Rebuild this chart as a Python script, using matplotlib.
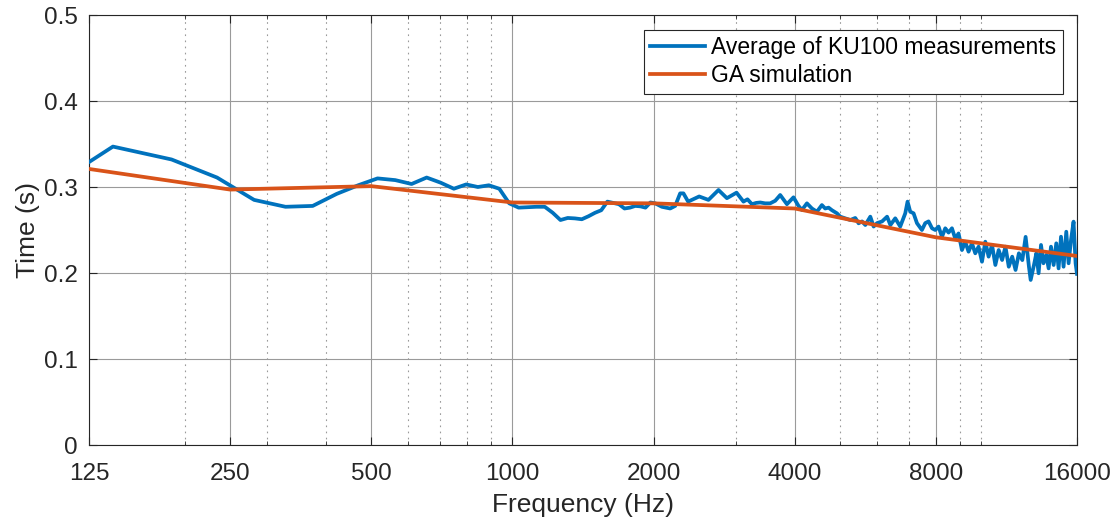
import matplotlib
matplotlib.use("Agg")
import matplotlib.pyplot as plt
from matplotlib.ticker import FixedLocator, NullFormatter

plt.rcParams['font.family'] = ['Liberation Sans', 'DejaVu Sans']

# ---- data ----
meas_freq = [125, 140.6, 187.5, 234.4, 281.25, 328.1, 375, 421.9, 468.75, 515.6,
             562.5, 609.4, 656.25, 703.1, 750, 796.9, 843.75, 890.6, 937.5, 984.4,
             1031, 1078, 1125, 1172, 1219, 1266, 1312, 1359, 1406, 1453,
             1500, 1547, 1594, 1641, 1687, 1734, 1781, 1828, 1875, 1922,
             1969, 2016, 2083, 2170, 2224, 2279, 2316, 2370, 2502, 2619,
             2751, 2867, 3006, 3110, 3172, 3242, 3310, 3377, 3460, 3546,
             3635, 3725, 3850, 3976, 4075, 4144, 4247, 4353, 4461, 4571,
             4646, 4724, 4802, 4922, 5002, 5127, 5254, 5386, 5474, 5567,
             5658, 5798, 5894, 5994, 6144, 6296, 6399, 6554, 6716, 6884,
             6962, 7054, 7171, 7290, 7471, 7594, 7719, 7850, 7977, 8107,
             8243, 8378, 8515, 8658, 8799, 8944, 9094, 9242, 9394, 9552,
             9709, 9867, 10034, 10199, 10366, 10542, 10715, 10891, 11076, 11259,
             11445, 11640, 11832, 12027, 12232, 12432, 12637, 12744, 12952, 13104,
             13250, 13408, 13570, 13760, 13918, 14082, 14266, 14452, 14616, 14792,
             14978, 15179, 15354, 15536, 15732, 15890, 16000]
meas_time = [0.329, 0.347, 0.332, 0.311, 0.285, 0.277, 0.278, 0.292, 0.302, 0.310,
             0.308, 0.3035, 0.311, 0.305, 0.298, 0.303, 0.300, 0.302, 0.298, 0.281,
             0.276, 0.2765, 0.277, 0.277, 0.270, 0.2616, 0.264, 0.2635, 0.2625, 0.266,
             0.270, 0.273, 0.283, 0.2815, 0.280, 0.275, 0.276, 0.278, 0.2775, 0.276,
             0.282, 0.281, 0.277, 0.275, 0.278, 0.2926, 0.2926, 0.283, 0.289, 0.285,
             0.2965, 0.287, 0.2934, 0.283, 0.2857, 0.280, 0.2815, 0.282, 0.281, 0.281,
             0.284, 0.2907, 0.280, 0.288, 0.278, 0.2733, 0.281, 0.275, 0.2713, 0.279,
             0.275, 0.276, 0.273, 0.2694, 0.2655, 0.2635, 0.2616, 0.264, 0.2578, 0.260,
             0.2558, 0.2655, 0.254, 0.258, 0.260, 0.2655, 0.2558, 0.2636, 0.254, 0.2694,
             0.283, 0.2713, 0.2694, 0.258, 0.250, 0.258, 0.260, 0.252, 0.250, 0.254,
             0.242, 0.252, 0.247, 0.252, 0.240, 0.246, 0.2267, 0.2364, 0.2248, 0.2345,
             0.2229, 0.2306, 0.2131, 0.2364, 0.219, 0.2326, 0.2093, 0.2267, 0.2151, 0.2306,
             0.2073, 0.219, 0.2035, 0.2229, 0.215, 0.242, 0.2073, 0.1919, 0.2093, 0.2229,
             0.1997, 0.2326, 0.2113, 0.221, 0.2054, 0.2306, 0.2093, 0.2345, 0.2054, 0.2422,
             0.2073, 0.248, 0.2113, 0.2384, 0.2597, 0.2113, 0.199]

sim_freq = [125, 250, 500, 1000, 2000, 4000, 8000, 16000]
sim_time = [0.321, 0.297, 0.301, 0.282, 0.281, 0.275, 0.2415, 0.2198]

x_ticks = [125, 250, 500, 1000, 2000, 4000, 8000, 16000]
x_tick_labels = ['125', '250', '500', '1000', '2000', '4000', '8000', '16000']
x_minor = [200, 300, 400, 600, 700, 800, 900, 3000, 5000, 6000, 7000, 9000, 10000]
y_ticks = [0, 0.1, 0.2, 0.3, 0.4, 0.5]
y_tick_labels = ['0', '0.1', '0.2', '0.3', '0.4', '0.5']

blue = '#0072BD'
orange = '#D95319'
ink = '#262626'

fig = plt.figure(figsize=(11.19, 5.22), dpi=100)
ax = fig.add_axes([89 / 1119, 1 - 445 / 522, (1077 - 89) / 1119, (445 - 15) / 522])

ax.plot(meas_freq, meas_time, color=blue, lw=2.7, label='Average of KU100 measurements',
        solid_joinstyle='round', zorder=3)
ax.plot(sim_freq, sim_time, color=orange, lw=2.7, label='GA simulation',
        solid_joinstyle='round', zorder=4)

ax.set_xscale('log')
ax.set_xlim(125, 16000)
ax.set_ylim(0, 0.5)
ax.xaxis.set_major_locator(FixedLocator(x_ticks))
ax.set_xticklabels(x_tick_labels)
ax.xaxis.set_minor_locator(FixedLocator(x_minor))
ax.xaxis.set_minor_formatter(NullFormatter())
ax.set_yticks(y_ticks)
ax.set_yticklabels(y_tick_labels)

ax.grid(True, which='major', color='#9a9a9a', lw=0.8, ls='-')
ax.grid(True, which='minor', axis='x', color='#9a9a9a', lw=0.8, ls=(0, (1.5, 4)))
ax.set_axisbelow(True)

ax.tick_params(which='major', direction='in', length=6, width=0.8, colors=ink,
               labelsize=17.5, top=True, right=True)
ax.tick_params(axis='x', which='major', pad=13)
ax.tick_params(axis='y', which='major', pad=8)
ax.tick_params(which='minor', direction='in', length=3, width=0.6, colors=ink,
               top=True, right=True)
for s in ax.spines.values():
    s.set_color(ink)
    s.set_linewidth(0.8)

ax.set_xlabel('Frequency (Hz)', fontsize=19, color=ink, labelpad=6)
ax.set_ylabel('Time (s)', fontsize=19, color=ink, labelpad=3)

leg = ax.legend(loc='upper right', bbox_to_anchor=(1063 / 1119, 1 - 30 / 522),
                bbox_transform=fig.transFigure, fontsize=16.5, frameon=True,
                fancybox=False, edgecolor=ink, framealpha=1, handlelength=2.4,
                handletextpad=0.26, borderpad=0.28, labelspacing=0.22, borderaxespad=0)
leg.get_frame().set_linewidth(0.8)

fig.savefig('out.png', dpi=100)
